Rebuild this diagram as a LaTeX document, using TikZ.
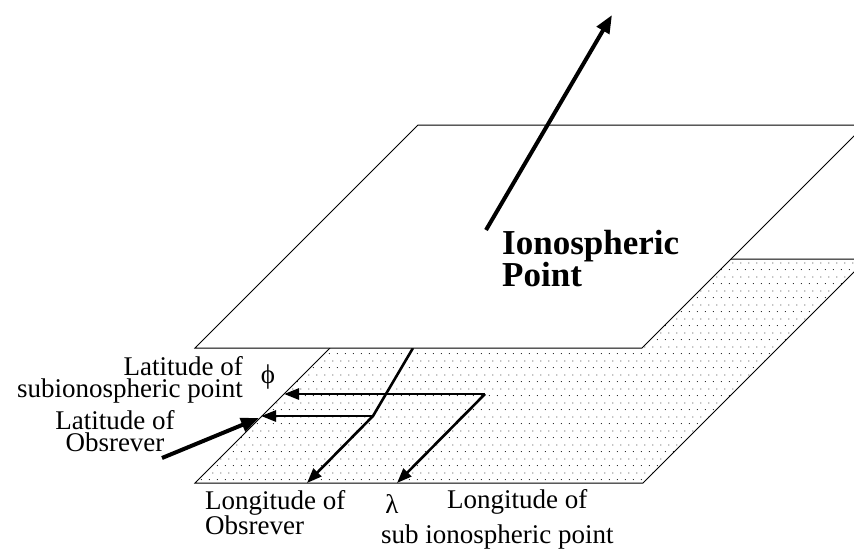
\documentclass[tikz,border=0pt]{standalone}
\usepackage{fontspec}
\setmainfont{Liberation Serif}
\usetikzlibrary{arrows.meta,patterns}
\pgfdeclarepatternformonly{sdots}{\pgfqpoint{0pt}{0pt}}{\pgfqpoint{8pt}{14pt}}{\pgfqpoint{8pt}{14pt}}{%
  \pgfpathcircle{\pgfqpoint{1.5pt}{1.5pt}}{0.6pt}%
  \pgfpathcircle{\pgfqpoint{5.5pt}{8.5pt}}{0.6pt}%
  \pgfusepath{fill}}
\tikzset{
  edge/.style={line width=1pt, line join=miter},
  proj/.style={line width=2.6pt, -{Triangle[length=15pt,width=11pt]}},
  bigarrow/.style={line width=4pt, -{Triangle[length=18pt,width=14pt]}},
  lbl/.style={inner sep=0pt, font=\fontsize{27}{22.5}\selectfont},
  blbl/.style={inner sep=0pt, font=\fontsize{35}{32}\selectfont\bfseries},
}
\begin{document}
\begin{tikzpicture}[x=1pt,y=-1pt]
\useasboundingbox (0,0) rectangle (854,550);
\clip (0,0) rectangle (854,550);
% lower (dotted) plane
\coordinate (LBL) at (195,483);
\coordinate (LBR) at (643,483);
\coordinate (LTR) at (867,259);
\coordinate (LTL) at (419,259);
% upper plane
\coordinate (UBL) at (195,348);
\coordinate (UBR) at (642,348);
\coordinate (UTR) at (865,125);
\coordinate (UTL) at (418,125);
% projection points
\coordinate (A)  at (413,348);
\coordinate (K)  at (373,416);
\coordinate (B1) at (307,483);
\coordinate (H1) at (261,416);
\coordinate (S)  at (485,394);
\coordinate (H2) at (284,394);
\coordinate (B2) at (397,483);
% thick arrows
\coordinate (IP) at (486,230);
\coordinate (Z)  at (612,15);
\coordinate (O)  at (162,458);
\coordinate (OT) at (259,418);

\path[pattern=sdots, pattern color=black] (LBL) -- (LBR) -- (LTR) -- (LTL) -- cycle;
\draw[edge] (LBL) -- (LBR) -- (LTR) -- (LTL) -- cycle;

\draw[proj] (A) -- (K) -- (B1);
\draw[proj] (K) -- (H1);
\draw[proj] (S) -- (H2);
\draw[proj] (S) -- (B2);

\filldraw[edge, fill=white] (UBL) -- (UBR) -- (UTR) -- (UTL) -- cycle;

\draw[bigarrow] (IP) -- (Z);
\draw[bigarrow] (O) -- (OT);

\node[blbl, align=left, anchor=north west] (ion) at (502,230) {Ionospheric\\Point};
\node[lbl, align=right, anchor=north east] (lat1) at (243,356) {Latitude of\\subionospheric point};
\node[lbl, anchor=center] (phi) at (268,377) {ϕ};
\node[lbl, align=center, anchor=north] (lat2) at (115,410) {Latitude of\\Obsrever};
\node[lbl, align=left, anchor=north west] (lon1) at (205,490) {Longitude of\\Obsrever};
\node[lbl, anchor=base] (lam) at (392,513) {λ};
\node[lbl, anchor=base west] (lon2) at (447,508) {Longitude of};
\node[lbl, anchor=base west] (sub) at (381,543) {sub ionospheric point};
\end{tikzpicture}
\end{document}
